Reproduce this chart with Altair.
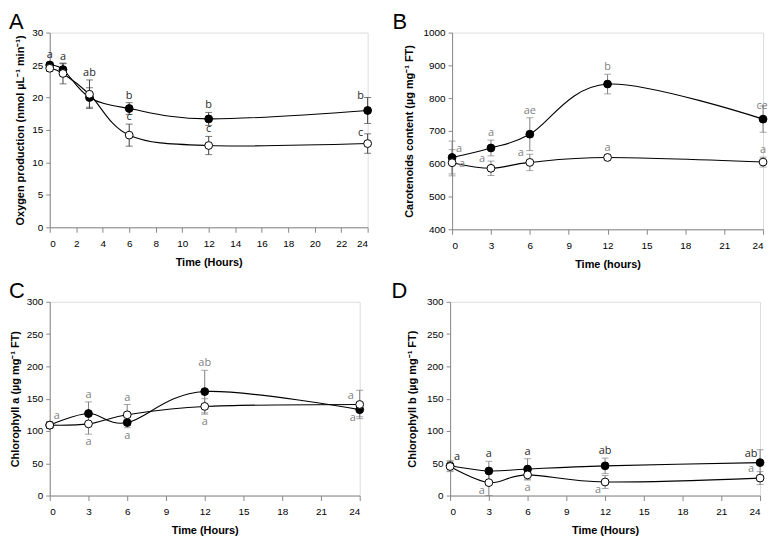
import altair as alt
import pandas as pd

FONT = "Open Sans"

# ---------------- Panel A : oxygen production ----------------
a_time = [0, 1, 3, 6, 12, 24]
a_filled = [25.0, 24.3, 20.0, 18.3, 16.7, 18.0]
a_filled_err = [0.4, 0.9, 1.5, 0.9, 1.0, 2.0]
a_open = [24.5, 23.7, 20.5, 14.2, 12.6, 12.9]
a_open_err = [0.5, 1.6, 2.2, 1.7, 1.4, 1.5]
a_filled_lab = ["a", "a", "", "b", "b", "b"]
a_filled_pos = ["above", "above", "", "above", "above", "capleft"]
a_open_lab = ["", "", "ab", "c", "c", "c"]
a_open_pos = ["", "", "above", "above", "above", "capleft"]

# ---------------- Panel B : carotenoids ----------------
b_time = [0, 3, 6, 12, 24]
b_filled = [619, 648, 690, 843, 736]
b_filled_err = [50, 24, 50, 30, 40]
b_open = [603, 586, 604, 619, 605]
b_open_err = [40, 22, 25, 8, 15]
b_filled_lab = ["a", "a", "ae", "b", "ce"]
b_filled_pos = ["upright", "above", "above", "above", "top"]
b_open_lab = ["a", "a", "a", "a", "a"]
b_open_pos = ["right", "upleft", "upleft", "above", "above"]

# ---------------- Panel C : chlorophyll a ----------------
c_time = [0, 3, 6, 12, 24]
c_filled = [109, 127, 113, 161, 133]
c_filled_err = [5, 18, 8, 33, 11]
c_open = [109, 111, 125, 138, 141]
c_open_err = [5, 16, 16, 12, 22]
c_filled_lab = ["a", "a", "a", "ab", "a"]
c_filled_pos = ["upright", "above", "below", "above", "downleft"]
c_open_lab = ["", "a", "a", "a", "a"]
c_open_pos = ["", "below", "above", "below", "upleft"]

# ---------------- Panel D : chlorophyll b ----------------
d_time = [0, 3, 6, 12, 24]
d_filled = [46, 38, 41, 46, 51]
d_filled_err = [8, 15, 16, 12, 20]
d_open = [45, 20, 32, 21, 27]
d_open_err = [8, 20, 8, 10, 10]
d_filled_lab = ["a", "a", "a", "ab", "ab"]
d_filled_pos = ["upright", "above", "above", "above", "upleft"]
d_open_lab = ["", "a", "a", "a", "a"]
d_open_pos = ["", "downleft", "below", "downleft", "upleft"]

# label placement: (anchor, dx, dy)
PLACE = {
    "above": ("hi", 0, -7),
    "below": ("lo", 0, 8),
    "upright": ("val", 7, -9),
    "right": ("val", 10, 1),
    "upleft": ("val", -9, -9),
    "downleft": ("val", -7, 8),
    "top": ("val", -1, -13),
    "capleft": ("hi", -7, -1),
}

GREY = "#808080"
DARK = "#262626"


def panel(letter, letter_dx, ytp, times, f, fe, o, oe, flab, fpos, olab, opos,
          xvals, ydom, yvals, ytitle, xtitle, w, h, fcol, ocol, ecol):
    rows = []
    for s, vals, errs in (("filled", f, fe), ("open", o, oe)):
        for t, v, e in zip(times, vals, errs):
            rows.append(dict(time=t, value=v, lo=v - e, hi=v + e, series=s))
    df = pd.DataFrame(rows)

    lab_rows = []
    for vals, errs, labs, poss, col in ((f, fe, flab, fpos, fcol), (o, oe, olab, opos, ocol)):
        for t, v, e, l, p in zip(times, vals, errs, labs, poss):
            if not l:
                continue
            anc, dx, dy = PLACE[p]
            yv = v + e if anc == "hi" else (v - e if anc == "lo" else v)
            lab_rows.append(dict(time=t, y=yv, text=l, dx=dx, dy=dy, color=col))
    ldf = pd.DataFrame(lab_rows)

    xs = alt.Scale(domain=[0, 24], nice=False, zero=False)
    ys = alt.Scale(domain=ydom, nice=False, zero=False)
    xax = alt.Axis(values=xvals, title=xtitle, grid=False, tickSize=5, labelPadding=6, format="d",
                   titlePadding=8)
    yax = alt.Axis(values=yvals, title=ytitle, grid=False, tickSize=4, labelPadding=3, format="d",
                   titlePadding=ytp)

    def X():
        return alt.X("time:Q", scale=xs, axis=xax)

    def Y(field):
        return alt.Y(field, scale=ys, axis=yax)

    base = alt.Chart(df)
    line = base.mark_line(interpolate="cardinal", color="black", strokeWidth=1.1).encode(
        x=X(), y=Y("value:Q"), detail="series:N")
    rule = base.mark_rule(color=ecol, strokeWidth=1).encode(
        x=X(), y=Y("lo:Q"), y2="hi:Q")
    cap_lo = base.mark_tick(orient="horizontal", size=7, thickness=1, color=ecol).encode(
        x=X(), y=Y("lo:Q"))
    cap_hi = base.mark_tick(orient="horizontal", size=7, thickness=1, color=ecol).encode(
        x=X(), y=Y("hi:Q"))
    pts = base.mark_circle(size=62, stroke="black", strokeWidth=1, opacity=1).encode(
        x=X(), y=Y("value:Q"),
        fill=alt.Fill("series:N", scale=alt.Scale(domain=["filled", "open"], range=["black", "white"]),
                      legend=None))

    layers = [line, rule, cap_lo, cap_hi, pts]
    for (dx, dy, col), g in ldf.groupby(["dx", "dy", "color"]):
        layers.append(
            alt.Chart(g).mark_text(dx=int(dx), dy=int(dy), fontSize=11, font=FONT, color=col).encode(
                x=X(), y=Y("y:Q"), text="text:N"))

    return alt.layer(*layers).properties(
        width=w, height=h,
        title=alt.TitleParams(letter, anchor="start", frame="group", dx=letter_dx, fontSize=22,
                              fontWeight="normal", font="Liberation Sans", color="black", offset=-6))


A = panel("A", -41, 6, a_time, a_filled, a_filled_err, a_open, a_open_err,
          a_filled_lab, a_filled_pos, a_open_lab, a_open_pos,
          list(range(0, 25, 2)), [0, 30], list(range(0, 31, 5)),
          "Oxygen production (nmol µL⁻¹ min⁻¹)", "Time (Hours)", 320, 196, DARK, DARK, "#404040")
B = panel("B", -60, 9, b_time, b_filled, b_filled_err, b_open, b_open_err,
          b_filled_lab, b_filled_pos, b_open_lab, b_open_pos,
          list(range(0, 25, 3)), [400, 1000], list(range(400, 1001, 100)),
          "Carotenoids content (µg mg⁻¹ FT)", "Time (hours)", 313, 198, GREY, GREY, GREY)
C = panel("C", -41, 6, c_time, c_filled, c_filled_err, c_open, c_open_err,
          c_filled_lab, c_filled_pos, c_open_lab, c_open_pos,
          list(range(0, 25, 3)), [0, 300], list(range(0, 301, 50)),
          "Chlorophyll a (µg mg⁻¹ FT)", "Time (Hours)", 312, 195, GREY, GREY, GREY)
D = panel("D", -59, 9, d_time, d_filled, d_filled_err, d_open, d_open_err,
          d_filled_lab, d_filled_pos, d_open_lab, d_open_pos,
          list(range(0, 25, 3)), [0, 300], list(range(0, 301, 50)),
          "Chlorophyll b (µg mg⁻¹ FT)", "Time (Hours)", 312, 195, DARK, GREY, GREY)

top = alt.hconcat(A, B, spacing=17)
bottom = alt.hconcat(C, D, spacing=24)

chart = alt.vconcat(top, bottom, spacing=9).properties(
    padding={"left": 0, "top": 0, "right": 0, "bottom": 0}
).configure_view(stroke="#404040", strokeWidth=1).configure_axis(
    labelFont=FONT, titleFont=FONT, labelFontSize=12, titleFontSize=12,
    titleFontWeight="bold", labelColor="#222222", titleColor="#222222",
    domainColor="#404040", tickColor="#404040"
).configure(background="white")

chart.save("out.html", embed_options={"renderer": "svg", "actions": False})
